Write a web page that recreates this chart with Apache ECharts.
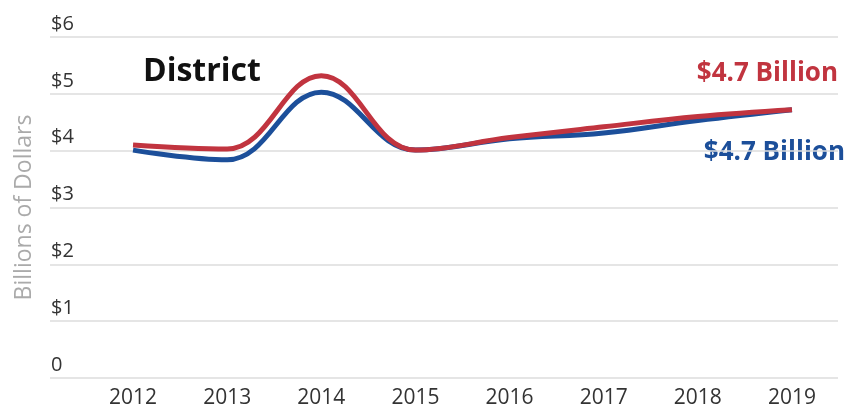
<!DOCTYPE html>
<html>
<head>
<meta charset="utf-8">
<script src="https://cdn.jsdelivr.net/npm/echarts@6/dist/echarts.min.js"></script>
<style>
  html, body { margin: 0; padding: 0; background: #fff; }
  #chart { width: 848px; height: 415px; }
</style>
</head>
<body>
<div id="chart"></div>
<script>
const years = ['2012', '2013', '2014', '2015', '2016', '2017', '2018', '2019']
const redValues = [4.1, 4.03, 5.32, 4.01, 4.23, 4.42, 4.6, 4.72]
const blueValues = [4.01, 3.84, 5.03, 4.01, 4.21, 4.31, 4.53, 4.72]
const yTicks = ['0', '$1', '$2', '$3', '$4', '$5', '$6']

const RED = '#c1343f'
const BLUE = '#1c4f9a'
const FONT = '"Open Sans", "Noto Sans", sans-serif'

const chart = echarts.init(document.getElementById('chart'))

const toPoints = arr => arr.map((v, i) => [i, v])
const fmt = v => '$' + v.toFixed(1) + ' Billion'

const option = {
  animation: false,
  textStyle: { fontFamily: FONT },
  grid: { left: 50, right: 10, top: 37, bottom: 37 },
  xAxis: {
    type: 'value',
    min: -0.882,
    max: 7.489,
    axisLine: { show: false },
    axisTick: { show: false },
    splitLine: { show: false },
    axisLabel: {
      customValues: years.map((y, i) => i),
      formatter: v => years[v],
      color: '#333',
      fontSize: 21,
      margin: 10
    }
  },
  yAxis: {
    type: 'value',
    min: 0,
    max: 6,
    interval: 1,
    name: 'Billions of Dollars',
    nameLocation: 'middle',
    nameGap: 14,
    nameTextStyle: { color: '#aaa', fontSize: 23 },
    axisLine: { show: false },
    axisTick: { show: false },
    splitLine: { lineStyle: { color: '#ddd', width: 1.5 } },
    axisLabel: {
      inside: true,
      margin: 1,
      color: '#333',
      fontSize: 20,
      verticalAlign: 'bottom',
      padding: [0, 0, 3, 0],
      formatter: v => yTicks[v]
    }
  },
  graphic: [
    {
      type: 'text', left: 143, top: 56,
      style: { text: 'District', fontSize: 32, fontWeight: 'bold', fill: '#111', fontFamily: FONT }
    },
    {
      type: 'text', right: 10, top: 61,
      style: { text: fmt(redValues[redValues.length - 1]), fontSize: 26, fontWeight: 'bold', fill: RED, fontFamily: FONT }
    },
    {
      type: 'text', right: 3, top: 140,
      style: { text: fmt(blueValues[blueValues.length - 1]), fontSize: 26, fontWeight: 'bold', fill: BLUE, fontFamily: FONT }
    }
  ],
  series: [
    {
      name: 'Blue',
      type: 'line',
      data: toPoints(blueValues),
      smooth: 0.4,
      showSymbol: false,
      lineStyle: { color: BLUE, width: 5 }
    },
    {
      name: 'Red',
      type: 'line',
      data: toPoints(redValues),
      smooth: 0.4,
      showSymbol: false,
      lineStyle: { color: RED, width: 5 }
    }
  ]
}

chart.setOption(option)
</script>
</body>
</html>
